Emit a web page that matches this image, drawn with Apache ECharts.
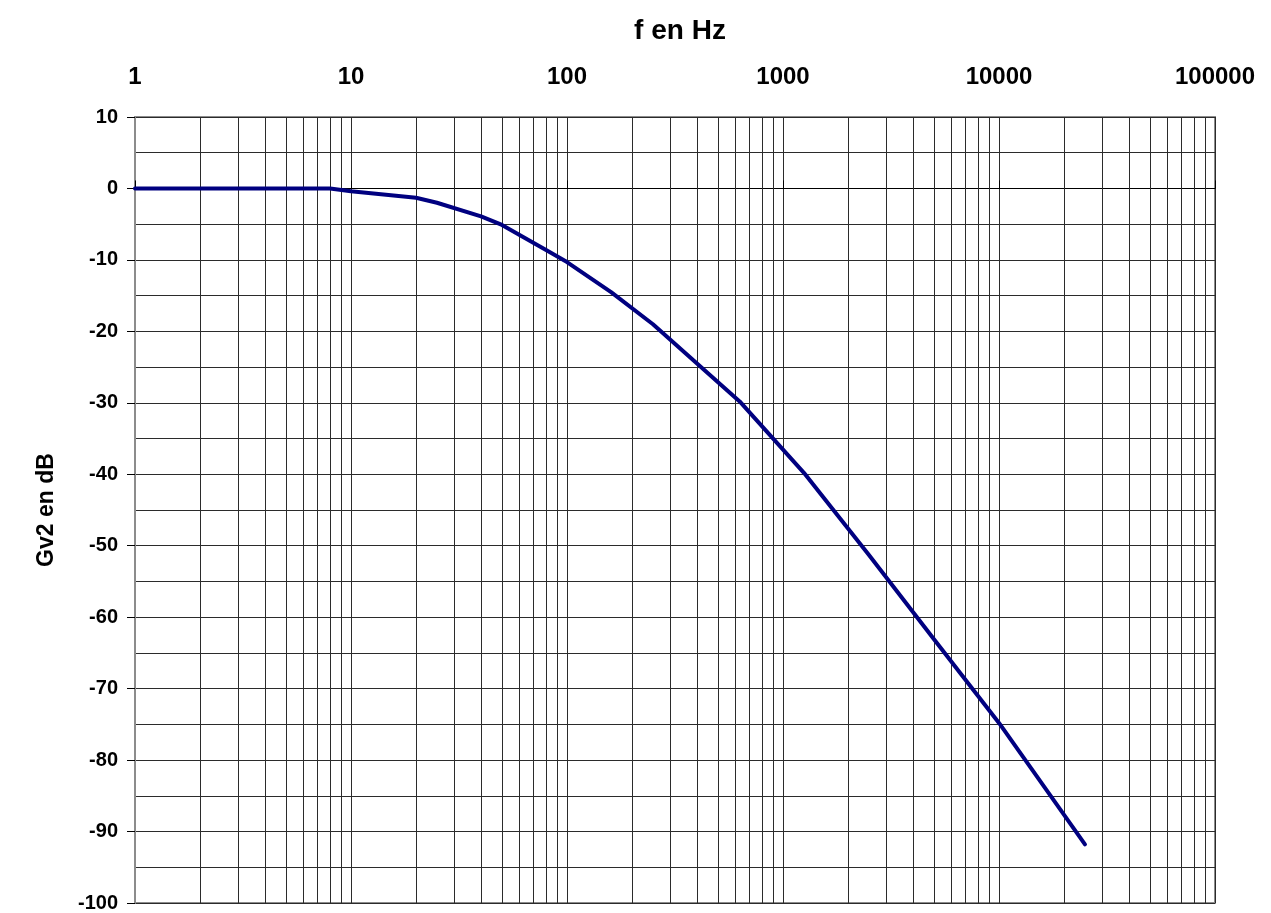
<!DOCTYPE html>
<html>
<head>
<meta charset="utf-8">
<title>Gv2 en dB</title>
<script src="https://cdn.jsdelivr.net/npm/echarts@6/dist/echarts.min.js"></script>
<style>
  html, body { margin: 0; padding: 0; background: #fff; }
  #chart { width: 1271px; height: 913px; }
</style>
</head>
<body>
<div id="chart"></div>
<script>
// ── data ──
const freqs = [1, 2, 5, 8, 10, 20, 25, 40, 50, 80, 100, 160, 250, 630, 1250, 2500, 5000, 10000, 25000];
const gainDb = [0, 0, 0, 0, -0.4, -1.3, -2.0, -3.9, -5.1, -8.6, -10.3, -14.5, -19.0, -29.8, -39.8, -51.3, -63.1, -74.8, -91.8];

// x decades and the 2..9 lines in between
const decades = [1, 10, 100, 1000, 10000];
const minorFreqs = [];
decades.forEach((d) => {
  for (let k = 2; k <= 9; k++) minorFreqs.push(k * d);
});

const X_NAME = "f en Hz";
const Y_NAME = "Gv2 en dB";

const GRID_COLOR = "#2b2b2b";
const BORDER_GREY = "#8c8c8c";
const FONT = "Liberation Sans";

const chart = echarts.init(document.getElementById("chart"));

chart.setOption({
  animation: false,
  title: {
    text: X_NAME,
    left: 675,
    textAlign: "center",
    top: 12,
    textStyle: {
      color: "#000",
      fontFamily: FONT,
      fontWeight: "bold",
      fontSize: 28,
    },
  },
  grid: {
    left: 135,
    right: 56,
    top: 117,
    bottom: 10,
    show: true,
    borderColor: BORDER_GREY,
    borderWidth: 2,
    backgroundColor: "#fff",
  },
  xAxis: {
    type: "log",
    logBase: 10,
    position: "top",
    min: 1,
    max: 100000,
    axisLine: { show: true, lineStyle: { color: "#000", width: 1 } },
    axisTick: { show: true, length: 8, inside: false, lineStyle: { color: "#000", width: 1 } },
    axisLabel: {
      color: "#000",
      fontFamily: FONT,
      fontWeight: "bold",
      fontSize: 24,
      margin: 28,
      formatter: (v) => String(Math.round(v)),
    },
    splitLine: { show: true, lineStyle: { color: GRID_COLOR, width: 1 } },
    minorTick: { show: false },
    minorSplitLine: { show: false },
  },
  yAxis: {
    type: "value",
    min: -100,
    max: 10,
    interval: 10,
    name: Y_NAME,
    nameLocation: "middle",
    nameRotate: 90,
    nameGap: 77,
    nameTextStyle: {
      color: "#000",
      fontFamily: FONT,
      fontWeight: "bold",
      fontSize: 23,
    },
    axisLine: { show: true, lineStyle: { color: BORDER_GREY, width: 2 } },
    axisTick: { show: true, length: 8, lineStyle: { color: "#000", width: 1 } },
    axisLabel: {
      color: "#000",
      fontFamily: FONT,
      fontWeight: "bold",
      fontSize: 20,
      margin: 17,
    },
    splitLine: { show: true, lineStyle: { color: GRID_COLOR, width: 1 } },
    minorTick: { show: false, splitNumber: 2 },
    minorSplitLine: { show: true, lineStyle: { color: GRID_COLOR, width: 1 } },
  },
  series: [
    {
      // helper: minor vertical grid lines at 2..9 of each decade
      type: "line",
      z: 1,
      silent: true,
      data: freqs.map((f, i) => [f, gainDb[i]]),
      showSymbol: false,
      lineStyle: { opacity: 0 },
      markLine: {
        silent: true,
        symbol: ["none", "none"],
        label: { show: false },
        lineStyle: { color: GRID_COLOR, width: 1, type: "solid" },
        emphasis: { disabled: true },
        data: minorFreqs.map((v) => ({ xAxis: v })),
      },
    },
    {
      type: "line",
      z: 5,
      data: freqs.map((f, i) => [f, gainDb[i]]),
      showSymbol: false,
      smooth: false,
      lineStyle: { color: "#000080", width: 4, cap: "round", join: "round" },
      itemStyle: { color: "#000080" },
    },
  ],
});
</script>
</body>
</html>
